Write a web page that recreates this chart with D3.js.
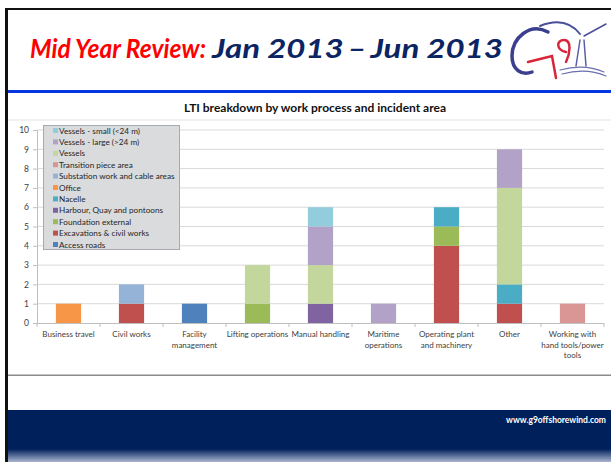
<html>
    <head>
        <script src="https://d3js.org/d3.v7.min.js"></script>
        <style>
body { margin: 0; background-color: #fff; }
text { font-family: Lato, "Open Sans", sans-serif; }
        </style>
    </head>
    <body>
        <div id="slide"></div>
        <script>
// categories along the x axis (line breaks as they appear on the slide)
var categories = ["Business travel", "Civil works", "Facility management", "Lifting operations",
    "Manual handling", "Maritime operations", "Operating plant and machinery", "Other",
    "Working with hand tools/power tools"];
var tickLabels = [["Business travel"], ["Civil works"], ["Facility", "management"], ["Lifting operations"],
    ["Manual handling"], ["Maritime", "operations"], ["Operating plant", "and machinery"], ["Other"],
    ["Working with", "hand tools/power", "tools"]];

// series, bottom of the stack first
var seriesNames = ["Access roads", "Excavations & civil works", "Foundation external",
    "Harbour, Quay and pontoons", "Nacelle", "Office", "Substation work and cable areas",
    "Transition piece area", "Vessels", "Vessels - large (>24 m)", "Vessels - small (<24 m)"];
var seriesColors = ["#4f81bd", "#c0504d", "#9bbb59", "#8064a2", "#4bacc6", "#f79646",
    "#95b3d7", "#d99694", "#c3d69b", "#b3a2c7", "#93cddd"];

var accessRoads    = [0, 0, 1, 0, 0, 0, 0, 0, 0];
var excavations    = [0, 1, 0, 0, 0, 0, 4, 1, 0];
var foundationExt  = [0, 0, 0, 1, 0, 0, 1, 0, 0];
var harbour        = [0, 0, 0, 0, 1, 0, 0, 0, 0];
var nacelle        = [0, 0, 0, 0, 0, 0, 1, 1, 0];
var office         = [1, 0, 0, 0, 0, 0, 0, 0, 0];
var substation     = [0, 1, 0, 0, 0, 0, 0, 0, 0];
var transition     = [0, 0, 0, 0, 0, 0, 0, 0, 1];
var vessels        = [0, 0, 0, 2, 2, 0, 0, 5, 0];
var vesselsLarge   = [0, 0, 0, 0, 2, 1, 0, 2, 0];
var vesselsSmall   = [0, 0, 0, 0, 1, 0, 0, 0, 0];
var seriesValues = [accessRoads, excavations, foundationExt, harbour, nacelle, office,
    substation, transition, vessels, vesselsLarge, vesselsSmall];

var yTicks = [0, 1, 2, 3, 4, 5, 6, 7, 8, 9, 10];

var W = 611, H = 462;
var svg = d3.select("#slide").append("svg")
    .attr("width", W).attr("height", H);

var defs = svg.append("defs");
var grad = defs.append("linearGradient").attr("id", "foot").attr("x1", 0).attr("y1", 0).attr("x2", 0).attr("y2", 1);
grad.append("stop").attr("offset", "0%").attr("stop-color", "#00205c");
grad.append("stop").attr("offset", "100%").attr("stop-color", "#aab6cf");

// slide frame
svg.append("rect").attr("x", 0).attr("y", 0).attr("width", W).attr("height", H).attr("fill", "#fff");
svg.append("rect").attr("x", 5).attr("y", 8).attr("width", W - 5).attr("height", 2).attr("fill", "#111");
svg.append("rect").attr("x", 5).attr("y", 8).attr("width", 3).attr("height", H - 8).attr("fill", "#111");
svg.append("rect").attr("x", 8).attr("y", 90).attr("width", W - 8).attr("height", 3).attr("fill", "#0536e0");
svg.append("rect").attr("x", 8).attr("y", 119.5).attr("width", W - 8).attr("height", 1).attr("fill", "#e4e4e4");
svg.append("rect").attr("x", 8).attr("y", 374.5).attr("width", W - 8).attr("height", 1.5).attr("fill", "#8a8a8a");

// footer band
svg.append("rect").attr("x", 8).attr("y", 410).attr("width", W - 8).attr("height", 40).attr("fill", "#00205c");
svg.append("rect").attr("x", 8).attr("y", 449).attr("width", W - 8).attr("height", 13).attr("fill", "url(#foot)");
svg.append("text").attr("x", 606).attr("y", 423).attr("text-anchor", "end")
    .attr("fill", "#fff").attr("font-size", 8.5).attr("font-weight", "bold")
    .text("www.g9offshorewind.com");

// slide title, two runs fitted to the widths of the original narrow face
svg.append("text").attr("x", 30).attr("y", 58)
    .attr("font-size", 27).attr("font-weight", "bold").attr("font-style", "italic")
    .attr("fill", "#ff0000")
    .attr("textLength", 176).attr("lengthAdjust", "spacingAndGlyphs")
    .text("Mid Year Review:");
svg.append("text").attr("x", 212).attr("y", 58)
    .attr("font-size", 27).attr("font-weight", "bold").attr("font-style", "italic")
    .attr("fill", "#0b2463")
    .attr("textLength", 291).attr("lengthAdjust", "spacingAndGlyphs")
    .text("Jan 2013\u2009\u2013\u2009Jun 2013");

// rough logo
var logo = svg.append("g").attr("fill", "none").attr("stroke-linecap", "round");
logo.append("path").attr("d", "M548,32 C530,22 512,38 512,56 C512,70 522,76 532,72")
    .attr("stroke", "#3c3f8f").attr("stroke-width", 3.5);
logo.append("path").attr("d", "M540,26 C560,18 572,24 580,34").attr("stroke", "#4a4f9a").attr("stroke-width", 2);
logo.append("path").attr("d", "M584,36 L606,24").attr("stroke", "#4a4f9a").attr("stroke-width", 1.5);
logo.append("path").attr("d", "M528,62 L552,56 L556,78").attr("stroke", "#d8253a").attr("stroke-width", 2.5);
logo.append("path").attr("d", "M566,52 C556,50 556,40 564,40 C572,40 570,54 566,62")
    .attr("stroke", "#d8253a").attr("stroke-width", 2.5);
logo.append("path").attr("d", "M580,40 L576,66 M584,40 L586,66").attr("stroke", "#5a5fa6").attr("stroke-width", 1.5);
logo.append("path").attr("d", "M560,70 C575,66 590,66 604,72 M562,74 C577,70 592,70 606,76")
    .attr("stroke", "#6a6fb0").attr("stroke-width", 1.2);

// chart
svg.append("text").attr("x", 315).attr("y", 112).attr("text-anchor", "middle")
    .attr("font-size", 12).attr("font-weight", "bold").attr("fill", "#111")
    .text("LTI breakdown by work process and incident area");

var x = d3.scaleBand().domain(categories).range([37, 604]).paddingInner(0.6).paddingOuter(0.3);
var y = d3.scaleLinear().domain([0, 10]).range([323, 130]);

// gridlines
svg.append("g").selectAll("line").data(yTicks.slice(1)).enter().append("line")
    .attr("x1", 37).attr("x2", 604)
    .attr("y1", function(d) { return y(d); }).attr("y2", function(d) { return y(d); })
    .attr("stroke", "#d9d9d9").attr("stroke-width", 1);

var yAxis = svg.append("g").attr("transform", "translate(37,0)")
    .call(d3.axisLeft(y).tickValues(yTicks).tickSize(4).tickPadding(4));
yAxis.select(".domain").attr("stroke", "#bfbfbf");
yAxis.selectAll(".tick line").attr("stroke", "#bfbfbf");
yAxis.selectAll("text").attr("font-size", 8.5).attr("fill", "#404040")
    .style("font-family", "Lato, sans-serif");

// stacked bars
var rows = categories.map(function(c, i) {
    var r = { cat: c };
    seriesNames.forEach(function(s, j) { r[s] = seriesValues[j][i]; });
    return r;
});
var stacked = d3.stack().keys(seriesNames)(rows);
svg.append("g").selectAll("g").data(stacked).enter().append("g")
    .attr("fill", function(d, i) { return seriesColors[i]; })
    .selectAll("rect").data(function(d) { return d.filter(function(p) { return p[1] > p[0]; }); })
    .enter().append("rect")
    .attr("x", function(d) { return x(d.data.cat); })
    .attr("width", x.bandwidth())
    .attr("y", function(d) { return y(d[1]); })
    .attr("height", function(d) { return y(d[0]) - y(d[1]); });

// x axis with ticks on the category boundaries
var xAxisG = svg.append("g");
xAxisG.append("line").attr("x1", 37).attr("x2", 604).attr("y1", y(0) + 0.5).attr("y2", y(0) + 0.5)
    .attr("stroke", "#bfbfbf");
xAxisG.selectAll("line.b").data(d3.range(categories.length + 1)).enter().append("line")
    .attr("class", "b")
    .attr("x1", function(i) { return 37 + i * x.step(); })
    .attr("x2", function(i) { return 37 + i * x.step(); })
    .attr("y1", y(0)).attr("y2", y(0) + 4).attr("stroke", "#bfbfbf");
xAxisG.selectAll("text").data(categories).enter().append("text")
    .attr("x", function(d) { return x(d) + x.bandwidth() / 2; })
    .attr("y", 337)
    .attr("text-anchor", "middle").attr("font-size", 8).attr("fill", "#404040")
    .each(function(d, i) {
        var t = d3.select(this);
        tickLabels[i].forEach(function(line, k) {
            t.append("tspan").attr("x", x(d) + x.bandwidth() / 2).attr("dy", k ? 10.5 : 0).text(line);
        });
    });

// legend
var legendItems = seriesNames.map(function(s, i) { return { name: s, color: seriesColors[i] }; }).reverse();
var legend = svg.append("g");
legend.append("rect").attr("x", 43.5).attr("y", 125.5).attr("width", 136).attr("height", 124)
    .attr("fill", "#d9dbdd").attr("stroke", "#a6a9ad");
var li = legend.selectAll("g.item").data(legendItems).enter().append("g").attr("class", "item")
    .attr("transform", function(d, i) { return "translate(53," + (130.5 + i * 11.4) + ")"; });
li.append("rect").attr("x", 0).attr("y", -2.5).attr("width", 5).attr("height", 5)
    .attr("fill", function(d) { return d.color; });
li.append("text").attr("x", 6).attr("y", 3).attr("font-size", 8.2).attr("fill", "#262626")
    .text(function(d) { return d.name; });
        </script>
    </body>
</html>
